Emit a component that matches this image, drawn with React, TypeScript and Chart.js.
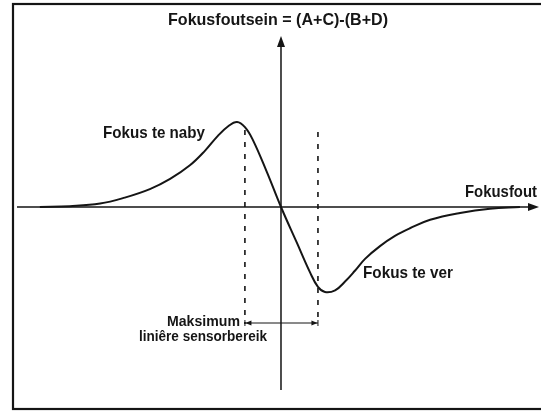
import React, { useEffect, useRef } from "react";
import { Chart, registerables } from "chart.js";

Chart.register(...registerables);

// Focus error signal (S-curve) sampled along the defocus axis.
const focusError: number[] = [
  -5.48, -4.8, -4.11, -3.55, -2.98, -2.52, -2.07, -1.73, -1.43, -1.2, -1.0,
  -0.82, -0.64, -0.32, 0, 0.36, 0.66, 0.84, 1.0, 1.23, 1.45, 1.68, 1.91, 2.25,
  2.59, 2.93, 3.39, 4.07, 4.75, 5.43,
];
const errorSignal: number[] = [
  0, 0.01, 0.04, 0.11, 0.21, 0.33, 0.49, 0.66, 0.84, 0.95, 1.0,
  0.94, 0.79, 0.41, 0, -0.42, -0.77, -0.94, -1.0, -0.98, -0.88, -0.75, -0.61, -0.46,
  -0.34, -0.25, -0.15, -0.07, -0.02, 0,
];
// Edges of the maximum linear sensor range.
const linearRange: number[] = [-0.82, 0.84];

const titleText = "Fokusfoutsein = (A+C)-(B+D)";
const axisText = "Fokusfout";
const nearText = "Fokus te naby";
const farText = "Fokus te ver";
const rangeText = ["Maksimum", "liniêre sensorbereik"];

const INK = "#151515";
const FONT = '"Liberation Sans", Arial, sans-serif';

function fitText(
  ctx: CanvasRenderingContext2D,
  text: string,
  left: number,
  right: number,
  midY: number,
  size: number
) {
  ctx.save();
  ctx.font = `bold ${size}px ${FONT}`;
  ctx.textBaseline = "middle";
  ctx.textAlign = "left";
  ctx.fillStyle = INK;
  const w = ctx.measureText(text).width;
  const sx = (right - left) / w;
  ctx.translate(left, midY);
  ctx.scale(sx, 1);
  ctx.fillText(text, 0, 0);
  ctx.restore();
}

function arrowHead(
  ctx: CanvasRenderingContext2D,
  tipX: number,
  tipY: number,
  dx: number,
  dy: number,
  len: number,
  half: number
) {
  const bx = tipX - dx * len;
  const by = tipY - dy * len;
  ctx.beginPath();
  ctx.moveTo(tipX, tipY);
  ctx.lineTo(bx - dy * half, by + dx * half);
  ctx.lineTo(bx + dy * half, by - dx * half);
  ctx.closePath();
  ctx.fill();
}

const diagramPlugin = {
  id: "focusDiagram",
  beforeDraw(chart: any) {
    const { ctx, width, height } = chart;
    ctx.save();
    ctx.fillStyle = "#ffffff";
    ctx.fillRect(0, 0, width, height);
    ctx.restore();
  },
  beforeDatasetsDraw(chart: any) {
    const ctx: CanvasRenderingContext2D = chart.ctx;
    const xs = chart.scales.x;
    const ys = chart.scales.y;
    const ox = xs.getPixelForValue(0);
    const oy = ys.getPixelForValue(0);

    ctx.save();
    ctx.strokeStyle = INK;
    ctx.fillStyle = INK;

    // outer frame
    ctx.lineWidth = 2.2;
    ctx.strokeRect(13, 4, 545, 405);

    // axes
    ctx.lineWidth = 1.5;
    ctx.beginPath();
    ctx.moveTo(17, oy);
    ctx.lineTo(530, oy);
    ctx.moveTo(ox, 390);
    ctx.lineTo(ox, 45);
    ctx.stroke();
    arrowHead(ctx, 539, oy, 1, 0, 11, 4);
    arrowHead(ctx, ox, 36, 0, -1, 11, 4);

    // dashed guides at the linear range edges
    ctx.lineWidth = 1.6;
    ctx.setLineDash([5, 7]);
    const [lo, hi] = linearRange;
    const lx = xs.getPixelForValue(lo);
    const hx = xs.getPixelForValue(hi);
    ctx.beginPath();
    ctx.moveTo(lx, 130);
    ctx.lineTo(lx, 324);
    ctx.moveTo(hx, 132);
    ctx.lineTo(hx, 324);
    ctx.stroke();
    ctx.setLineDash([]);

    // range dimension arrow
    const ay = 323;
    ctx.lineWidth = 1;
    ctx.beginPath();
    ctx.moveTo(lx, ay);
    ctx.lineTo(hx, ay);
    ctx.moveTo(lx, ay - 3);
    ctx.lineTo(lx, ay + 3);
    ctx.moveTo(hx, ay - 3);
    ctx.lineTo(hx, ay + 3);
    ctx.stroke();
    arrowHead(ctx, lx + 0.5, ay, -1, 0, 6, 2.5);
    arrowHead(ctx, hx - 0.5, ay, 1, 0, 6, 2.5);
    ctx.restore();
  },
  afterDatasetsDraw(chart: any) {
    const ctx: CanvasRenderingContext2D = chart.ctx;
    fitText(ctx, titleText, 168, 388, 20, 17);
    fitText(ctx, axisText, 465, 537, 192, 17);
    fitText(ctx, nearText, 103, 205, 133, 17);
    fitText(ctx, farText, 363, 453, 273, 17);
    fitText(ctx, rangeText[0], 167, 240, 322, 15);
    fitText(ctx, rangeText[1], 139, 267, 337, 15);
  },
};

export default function App() {
  const canvasRef = useRef<HTMLCanvasElement | null>(null);

  useEffect(() => {
    const canvas = canvasRef.current;
    if (!canvas) return;
    const points = focusError.map((x, i) => ({ x, y: errorSignal[i] }));
    const chart = new Chart(canvas, {
      type: "line",
      data: {
        datasets: [
          {
            data: points,
            borderColor: INK,
            borderWidth: 2,
            pointRadius: 0,
            fill: false,
            tension: 0.4,
          },
        ],
      },
      options: {
        animation: false,
        responsive: false,
        devicePixelRatio: 1,
        layout: { padding: 0 },
        plugins: {
          legend: { display: false },
          tooltip: { enabled: false },
          title: { display: false },
        },
        scales: {
          x: { type: "linear", min: -6.386, max: 5.909, display: false },
          y: { type: "linear", min: -2.4, max: 2.435, display: false },
        },
      },
      plugins: [diagramPlugin],
    } as any);
    return () => chart.destroy();
  }, []);

  return (
    <div style={{ position: "absolute", left: 0, top: 0, width: 541, height: 411 }}>
      <canvas ref={canvasRef} width={541} height={411} />
    </div>
  );
}
